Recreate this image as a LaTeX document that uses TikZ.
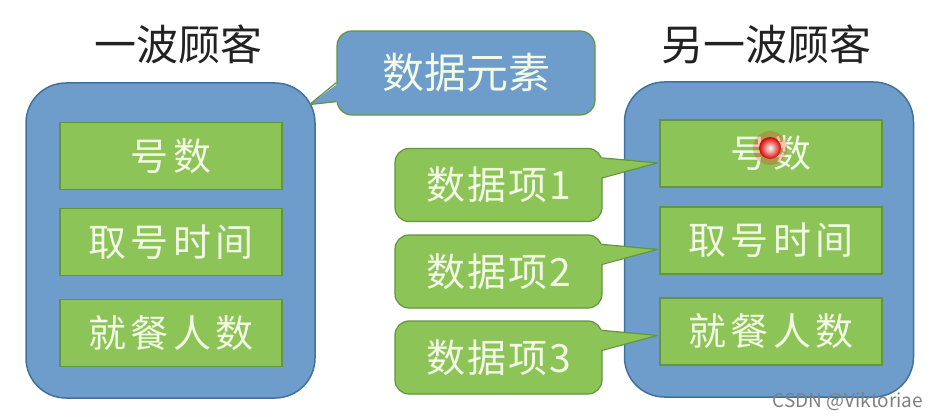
\documentclass[tikz,border=0pt]{standalone}
\usepackage{fontspec}
\newfontfamily\cjk{Noto Sans CJK SC}
\newfontfamily\cjkwide[LetterSpace=12]{Noto Sans CJK SC}
\newfontfamily\cjkmid[LetterSpace=5]{Noto Sans CJK SC}
\usetikzlibrary{calc}
\definecolor{bluefill}{RGB}{110,157,204}
\definecolor{blueline}{RGB}{65,113,156}
\definecolor{greenfill}{RGB}{140,196,88}
\definecolor{greenline}{RGB}{98,150,60}
\definecolor{boxtext}{RGB}{242,249,228}
\definecolor{titletext}{RGB}{34,34,34}
\tikzset{
  panel/.style={draw=blueline, fill=bluefill, line width=1.5pt, rounded corners=40pt,
    minimum width=289pt, minimum height=315pt, inner sep=0pt},
  field/.style={draw=greenline, fill=greenfill, line width=1.2pt, minimum width=222pt,
    minimum height=67pt, inner sep=0pt, text=boxtext, font=\cjkwide\fontsize{38}{40}\selectfont},
  titletxt/.style={text=titletext, font=\cjk\fontsize{42}{44}\selectfont},
  itemcall/.style={draw=greenline, fill=greenfill, line width=1.2pt, rounded corners=14pt,
    minimum width=207pt, minimum height=73pt, inner sep=0pt, text=boxtext,
    font=\cjkmid\fontsize{39}{41}\selectfont},
  elemcall/.style={draw=greenline, fill=bluefill, line width=1.2pt, rounded corners=15pt,
    minimum width=258pt, minimum height=84pt, inner sep=0pt, text=boxtext,
    font=\cjk\fontsize{42}{44}\selectfont},
  wedgeline/.style={draw=greenline, line width=1.2pt, line join=round},
}
\begin{document}
\begin{tikzpicture}[x=1pt,y=-1pt]
\useasboundingbox (0,0) rectangle (938,420);
\fill[white] (0,0) rectangle (938,420);
% titles
\node[titletxt] (t1) at (178,44) {一波顾客};
\node[titletxt] (t2) at (766,44) {另一波顾客};
% panels
\node[panel] (lp) at (170.5,240.5) {};
\node[panel] (rp) at (769,239.5) {};
% fields left
\node[field] (l1) at (171,156) {号数};
\node[field] (l2) at (171,242) {取号时间};
\node[field] (l3) at (171,333) {就餐人数};
% fields right
\node[field] (r1) at (771,153.5) {号数};
\node[field] (r2) at (771,240.5) {取号时间};
\node[field] (r3) at (771,331.5) {就餐人数};
% element callout
\node[elemcall] (e) at (466,73) {数据元素};
\coordinate (etip) at ($(e.south west)+(-27,-11)$);
\fill[bluefill] ($(e.south west)+(3,-33)$) -- (etip) -- ($(e.south west)+(3,-14)$) -- cycle;
\draw[wedgeline] ($(e.south west)+(0,-33)$) -- (etip) -- ($(e.south west)+(0,-14)$);
% item callouts
\foreach \n/\y/\t in {1/185/数据项1, 2/271.5/数据项2, 3/357.5/数据项3}{
  \node[itemcall] (i\n) at (498.5,\y) {\t};
  \coordinate (tip\n) at ($(i\n.north east)+(55,15)$);
  \fill[greenfill] ($(i\n.north east)+(-3,10)$) -- (tip\n) -- ($(i\n.north east)+(-3,30)$) -- cycle;
  \draw[wedgeline] ($(i\n.north east)+(-0.5,10)$) -- (tip\n) -- ($(i\n.north east)+(-0.5,30)$);
}
% laser dot
\fill[red, opacity=0.2] (770,148) circle (17);
\shade[inner color=white, outer color=red!85!black] (770,148) circle (11);
% watermark
\node[text=gray, font=\cjk\fontsize{19}{21}\selectfont] (wm) at (848,402) {CSDN @Viktoriae};
\end{tikzpicture}
\end{document}
